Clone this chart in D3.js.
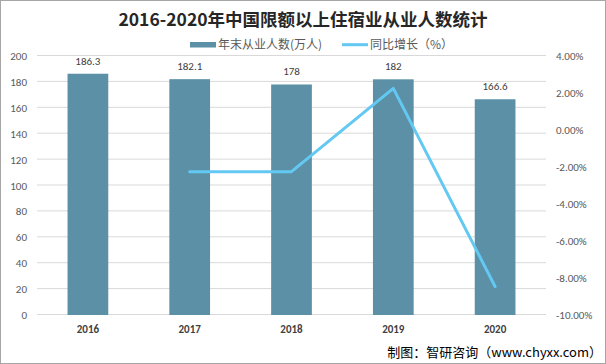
<!DOCTYPE html>
<html><head><meta charset="utf-8">
<script src="https://cdn.jsdelivr.net/npm/d3@7"></script>
<style>
body{margin:0;background:#fff;}
svg{display:block;font-family:"Microsoft YaHei","Noto Sans CJK SC",sans-serif;}
</style></head><body>
<svg id="c" width="606" height="364"></svg>
<script>
const categories = ["2016","2017","2018","2019","2020"];
const employees = [186.3, 182.1, 178, 182, 166.6];
const growth = [null, -2.25, -2.25, 2.25, -8.46];
const leftTicks = [0,20,40,60,80,100,120,140,160,180,200];
const rightTicks = [4,2,0,-2,-4,-6,-8,-10];

const svg = d3.select("#c");
const W = 606, H = 364;
svg.append("rect").attr("x",0.5).attr("y",0.5).attr("width",W-1).attr("height",H-1)
  .attr("fill","#fff").attr("stroke","#a6a6a6");

const L = 37, R = 546, T = 56, B = 315;
const x = d3.scaleBand().domain(categories).range([L,R]).paddingInner(0.6).paddingOuter(0.3);
const yL = d3.scaleLinear().domain([0,200]).range([B,T]);
const yR = d3.scaleLinear().domain([-10,4]).range([B,T]);

// gridlines
svg.append("g").selectAll("line").data(leftTicks).join("line")
  .attr("x1",L).attr("x2",R).attr("y1",d=>yL(d)-0.5).attr("y2",d=>yL(d)-0.5)
  .attr("stroke","#d9d9d9").attr("stroke-width",1);

// left axis
const la = svg.append("g").attr("transform",`translate(${L-10},0)`)
  .call(d3.axisLeft(yL).tickValues(leftTicks).tickSize(0).tickPadding(0));
la.select(".domain").remove();
la.selectAll("text").attr("fill","#595959").style("font-size","11px").style("font-family","Calibri,Carlito,'Liberation Sans',sans-serif");

// right axis
const ra = svg.append("g").attr("transform",`translate(${R+10},0)`)
  .call(d3.axisRight(yR).tickValues(rightTicks).tickSize(0).tickPadding(0).tickFormat(d=>d.toFixed(2)+"%"));
ra.select(".domain").remove();
ra.selectAll("text").attr("fill","#595959").style("font-size","11px").style("font-family","Calibri,Carlito,'Liberation Sans',sans-serif");

// bottom axis
const ba = svg.append("g").attr("transform",`translate(0,${B})`)
  .call(d3.axisBottom(x).tickSize(0).tickPadding(10));
ba.select(".domain").remove();
ba.selectAll("text").attr("fill","#404040").style("font-size","11px").style("font-weight","bold").style("font-family","Calibri,Carlito,'Liberation Sans',sans-serif");

// bars
svg.append("g").selectAll("rect").data(employees).join("rect")
  .attr("x",(d,i)=>x(categories[i])).attr("width",x.bandwidth())
  .attr("y",d=>yL(d)).attr("height",d=>B-yL(d)).attr("fill","#5b90a6");

// bar labels
svg.append("g").selectAll("text").data(employees).join("text")
  .attr("x",(d,i)=>x(categories[i])+x.bandwidth()/2).attr("y",d=>yL(d)-9)
  .attr("text-anchor","middle").attr("fill","#404040").style("font-size","11px")
  .style("font-family","Calibri,Carlito,'Liberation Sans',sans-serif")
  .text(d=>d);

// line
const pts = growth.map((g,i)=>({g,c:categories[i]})).filter(d=>d.g!==null);
svg.append("path").datum(pts)
  .attr("d",d3.line().x(d=>x(d.c)+x.bandwidth()/2).y(d=>yR(d.g)))
  .attr("fill","none").attr("stroke","#63c8f2").attr("stroke-width",3).attr("stroke-linejoin","round").attr("stroke-linecap","round");

// title
svg.append("text").attr("x",303).attr("y",26).attr("text-anchor","middle")
  .attr("fill","#262626").style("font-size","17.5px").style("font-weight","bold")
  .text("2016-2020年中国限额以上住宿业从业人数统计");

// legend
const lg = svg.append("g").style("font-size","12px").attr("fill","#595959");
lg.append("rect").attr("x",190).attr("y",42).attr("width",26).attr("height",5.5).attr("fill","#5b90a6");
lg.append("text").attr("x",218).attr("y",49).text("年末从业人数(万人)");
lg.append("line").attr("x1",342).attr("x2",368).attr("y1",44.7).attr("y2",44.7).attr("stroke","#63c8f2").attr("stroke-width",3);
lg.append("text").attr("x",370).attr("y",49).text("同比增长（%）");

// source
svg.append("text").attr("x",602).attr("y",357).attr("text-anchor","end")
  .attr("fill","#000").style("font-size","13px")
  .text("制图：智研咨询（www.chyxx.com）");
</script>
</body></html>
